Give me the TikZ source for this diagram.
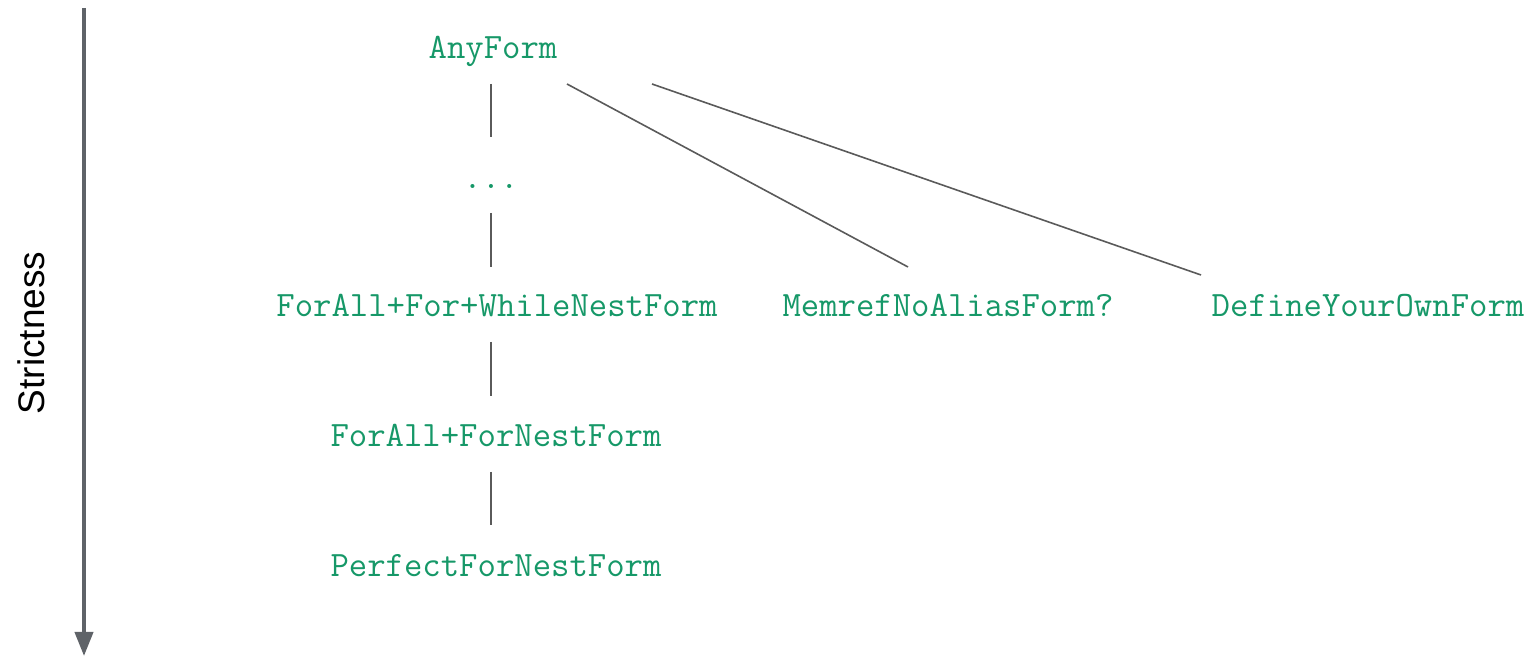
\documentclass[tikz,border=0pt]{standalone}
\usepackage{fontspec}
\setmainfont{Liberation Sans}
\usetikzlibrary{calc,arrows.meta}
\definecolor{formgreen}{RGB}{22,152,104}
\definecolor{linkgray}{RGB}{90,90,90}
\definecolor{axisgray}{RGB}{95,99,104}
\tikzset{
  form/.style={text=formgreen, font=\ttfamily\fontsize{17.85}{20}\selectfont, inner sep=0pt, anchor=base},
  link/.style={draw=linkgray, line width=0.8pt},
  axis/.style={draw=axisgray, line width=2pt, -{Triangle[width=9pt,length=12pt]}},
  axislabel/.style={font=\fontsize{18.5}{22}\selectfont, text=black, rotate=90, inner sep=0pt}
}
\begin{document}
\begin{tikzpicture}[x=0.5pt, y=-0.5pt]
  \useasboundingbox (0,0) rectangle (1530,656);

  % strictness axis
  \coordinate (axtop) at (84,8);
  \coordinate (axbot) at (84,656);
  \draw[axis] (axtop) -- (axbot);
  \node[axislabel] (strict) at (31,333) {Strictness};

  % forms
  \node[form] (any)     at (493,59)  {AnyForm};
  \node[form] (dots)    at (491,189) {...};
  \node[form] (fawn)    at (497,317) {ForAll+For+WhileNestForm};
  \node[form] (memref)  at (948,317) {MemrefNoAliasForm?};
  \node[form] (define)  at (1368,317) {DefineYourOwnForm};
  \node[form] (fafn)    at (496,447) {ForAll+ForNestForm};
  \node[form] (perfect) at (496,577) {PerfectForNestForm};

  % trunk of the hierarchy
  \coordinate (trunk) at (491,0);
  \draw[link] ($(trunk |- any.base)+(0,25)$) -- ($(trunk |- dots.base)+(0,-52)$);
  \draw[link] ($(trunk |- dots.base)+(0,24)$) -- ($(trunk |- fawn.base)+(0,-50)$);
  \draw[link] ($(trunk |- fawn.base)+(0,25)$) -- ($(trunk |- fafn.base)+(0,-51)$);
  \draw[link] ($(trunk |- fafn.base)+(0,25)$) -- ($(trunk |- perfect.base)+(0,-52)$);

  % side branches
  \draw[link] ($(any.base)+(74,25)$) -- ($(memref.base)+(-40,-50)$);
  \draw[link] ($(any.base)+(159,25)$) -- ($(define.base)+(-167,-42)$);
\end{tikzpicture}
\end{document}
